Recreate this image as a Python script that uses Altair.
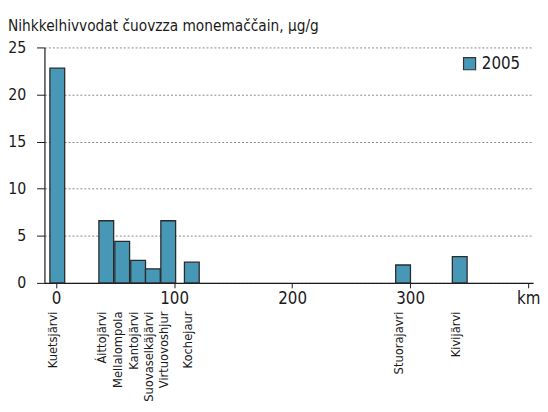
import altair as alt
import pandas as pd

stations = ["Kuetsjärvi", "Áittojärvi", "Mellalompola", "Kantojärvi", "Suovaselkäjärvi",
            "Virtuovoshjur", "Kochejaur", "Stuorajavri", "Kivijärvi"]
distance_km = [1, 42.5, 56, 69.5, 82, 95, 115, 294, 342]
nickel_2005 = [22.8, 6.6, 4.4, 2.4, 1.5, 6.6, 2.2, 1.9, 2.8]
year = ["2005"] * len(stations)

title_text = "Nihkkelhivvodat čuovzza  monemaččain, μg/g"
x_ticks = [0, 100, 200, 300, 400]
y_ticks = [0, 5, 10, 15, 20, 25]

df = pd.DataFrame({"station": stations, "km": distance_km, "ni": nickel_2005, "year": year})

FONT = "DejaVu Sans Condensed"
W, H = 496, 239
BAR = "#4798b6"

x_scale = alt.Scale(domain=[-5.7, 400], nice=False, zero=False)
y_scale = alt.Scale(domain=[0, 25], nice=False)

bars = alt.Chart(df).mark_bar(size=15, stroke="#2b2b2b", strokeWidth=1.3).encode(
    x=alt.X("km:Q", scale=x_scale,
            axis=alt.Axis(values=x_ticks, title=None, grid=False,
                          labelExpr="datum.value == 400 ? 'km' : datum.label",
                          labelFontSize=17, labelFont=FONT, labelColor="#1a1a1a",
                          tickSize=5, labelPadding=3, domainColor="#1a1a1a",
                          tickColor="#1a1a1a", domainWidth=1.2, labelFlush=False)),
    y=alt.Y("ni:Q", scale=y_scale,
            axis=alt.Axis(values=y_ticks, title=None, grid=True,
                          gridDash=[2, 2], gridColor="#888888", gridWidth=1,
                          labelFontSize=16, labelFont=FONT, labelColor="#1a1a1a",
                          tickSize=8, labelPadding=11, domainColor="#1a1a1a",
                          tickColor="#1a1a1a", domainWidth=1.2)),
    color=alt.Color("year:N", scale=alt.Scale(range=[BAR]),
                    legend=alt.Legend(title=None, orient="none", legendX=423, legendY=8,
                                      symbolType="square", symbolSize=150,
                                      symbolStrokeColor="#333333", symbolStrokeWidth=1.2,
                                      labelFontSize=17, labelFont=FONT, labelColor="#1a1a1a",
                                      symbolOpacity=1)),
)

labels = alt.Chart(df).mark_text(angle=270, align="right", baseline="middle",
                                 fontSize=13, font=FONT, color="#1a1a1a", dy=-4).encode(
    x=alt.X("km:Q", scale=x_scale),
    y=alt.value(H + 29),
    text="station:N",
)

title = alt.Chart(pd.DataFrame({"t": [title_text]})).mark_text(
    align="left", baseline="alphabetic", fontSize=15.5, font=FONT, color="#1a1a1a"
).encode(x=alt.value(-37), y=alt.value(-17), text="t:N")

chart = alt.layer(bars, labels, title).properties(
    width=W, height=H,
    autosize=alt.AutoSizeParams(type="none"),
    padding={"left": 37, "top": 37, "right": 7, "bottom": 127},
).configure_view(stroke=None).configure_text(font=FONT)

chart.save("out.html", embed_options={"renderer": "svg", "actions": False})
